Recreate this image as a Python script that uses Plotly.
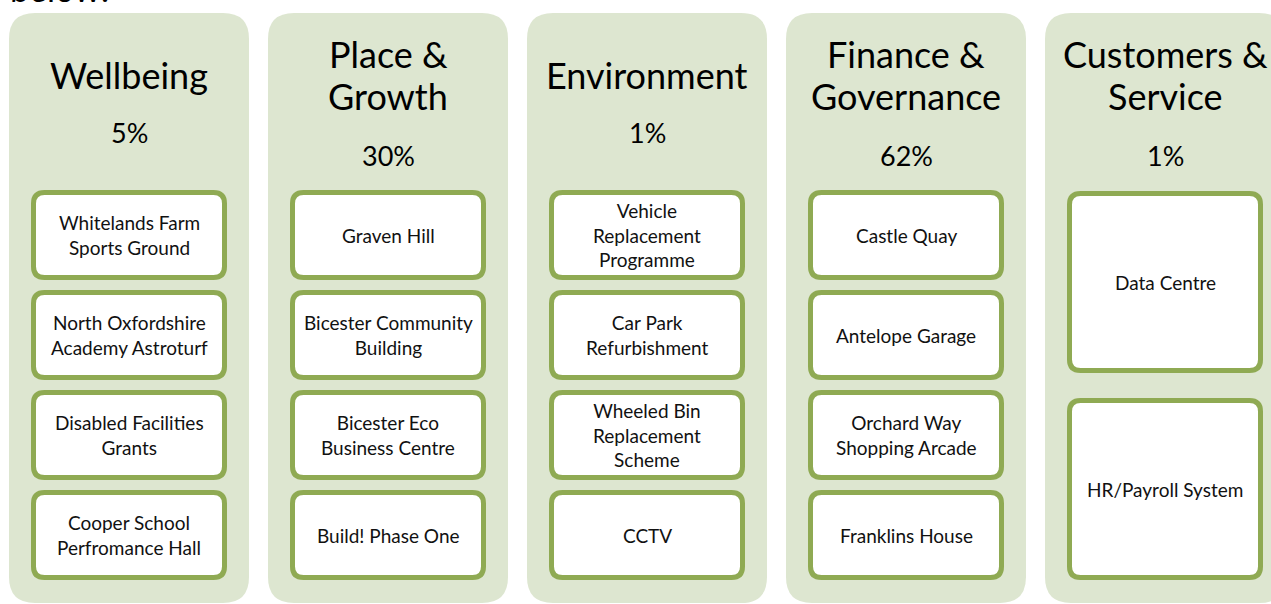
"""Capital programme overview: themes, spend share and projects."""

import plotly.graph_objects as go

W, H = 1271, 604

themes = ["Wellbeing", "Place &<br>Growth", "Environment",
          "Finance &<br>Governance", "Customers &<br>Service"]
shares = [5, 30, 1, 62, 1]
projects = [
    ["Whitelands Farm<br>Sports Ground", "North Oxfordshire<br>Academy Astroturf",
     "Disabled Facilities<br>Grants", "Cooper School<br>Perfromance Hall"],
    ["Graven Hill", "Bicester Community<br>Building",
     "Bicester Eco<br>Business Centre", "Build! Phase One"],
    ["Vehicle<br>Replacement<br>Programme", "Car Park<br>Refurbishment",
     "Wheeled Bin<br>Replacement<br>Scheme", "CCTV"],
    ["Castle Quay", "Antelope Garage",
     "Orchard Way<br>Shopping Arcade", "Franklins House"],
    ["Data Centre", "HR/Payroll System"],
]

PANEL_FILL = "#DDE6D0"
BOX_LINE = "#8FAA53"
FONT = "Lato"


def rounded_rect(x0, y0, x1, y1, r):
    """SVG path for a rounded rectangle (y axis runs downwards)."""
    return (
        f"M {x0 + r},{y0} L {x1 - r},{y0} Q {x1},{y0} {x1},{y0 + r} "
        f"L {x1},{y1 - r} Q {x1},{y1} {x1 - r},{y1} "
        f"L {x0 + r},{y1} Q {x0},{y1} {x0},{y1 - r} "
        f"L {x0},{y0 + r} Q {x0},{y0} {x0 + r},{y0} Z"
    )


def label(x, y, text, size, color="black"):
    return dict(x=x, y=y, xref="x", yref="y", text=text, showarrow=False,
                xanchor="center", yanchor="middle",
                font=dict(family=FONT, size=size, color=color))


fig = go.Figure()
shapes, annotations = [], []

panel_left, panel_step, panel_w = 9, 259, 240
panel_top, panel_bottom = 13, 603
box_inset, box_w, lw = 22, 196, 5

for i, (theme, share, items) in enumerate(zip(themes, shares, projects)):
    px = panel_left + i * panel_step
    shapes.append(dict(
        type="path", path=rounded_rect(px, panel_top, px + panel_w, panel_bottom, 26),
        fillcolor=PANEL_FILL, line_width=0, layer="below",
    ))
    cx = px + box_inset + box_w / 2

    # title lines placed one by one to get the tighter line spacing
    lines = theme.split("<br>")
    if len(lines) == 1:
        annotations.append(label(cx, 75, lines[0], 36))
        share_y = 132
    else:
        annotations.append(label(cx, 54, lines[0], 36))
        annotations.append(label(cx, 96, lines[1], 36))
        share_y = 155
    annotations.append(label(cx, share_y, f"{share}%", 27))

    # boxes: four short boxes, or two tall ones
    if len(items) == 4:
        tops, h = [190, 290, 390, 490], 90
    else:
        tops, h = [191, 398], 182
    for top, item in zip(tops, items):
        bx0 = px + box_inset + lw / 2
        bx1 = px + box_inset + box_w - lw / 2
        by0, by1 = top + lw / 2, top + h - lw / 2
        shapes.append(dict(
            type="path", path=rounded_rect(bx0, by0, bx1, by1, 11),
            fillcolor="white", line=dict(color=BOX_LINE, width=lw),
        ))
        annotations.append(label(cx, top + h / 2, item, 19, "#111111"))

# text cut off at the top edge of the page
annotations.append(dict(
    x=8, y=11, xref="x", yref="y", text="below:", showarrow=False,
    xanchor="left", yanchor="bottom", font=dict(family=FONT, size=34, color="black"),
))

fig.update_layout(
    width=W, height=H,
    margin=dict(l=0, r=0, t=0, b=0),
    paper_bgcolor="white", plot_bgcolor="white",
    shapes=shapes, annotations=annotations,
    showlegend=False,
)
fig.update_xaxes(range=[0, W], visible=False, fixedrange=True)
fig.update_yaxes(range=[H, 0], visible=False, fixedrange=True)

fig.write_html("out.html", config={"displayModeBar": False},
               post_script="document.body.style.margin = '0';")
